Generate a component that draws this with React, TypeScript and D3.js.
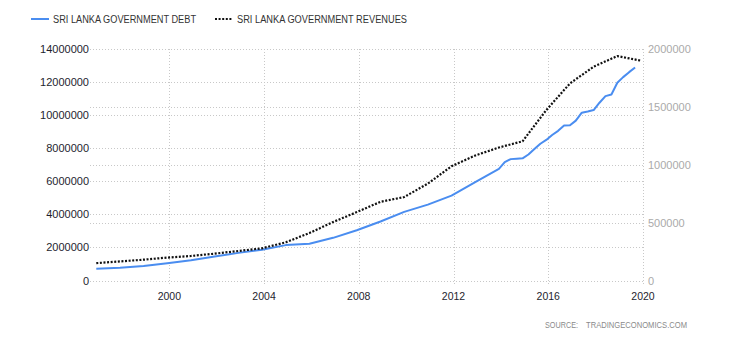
import React from "react";
import * as d3 from "d3";

const debtDates = [
  "1996-12", "1997-12", "1998-12", "1999-12", "2000-12", "2001-12", "2002-12", "2003-12",
  "2004-12", "2005-12", "2006-12", "2007-12", "2008-12", "2009-12", "2010-12", "2011-12",
  "2012-12", "2013-12",
  "2014-03", "2014-06", "2014-09", "2014-12",
  "2015-03", "2015-06", "2015-09", "2015-12",
  "2016-03", "2016-06", "2016-09", "2016-12",
  "2017-03", "2017-06", "2017-09", "2017-12",
  "2018-03", "2018-06", "2018-09", "2018-12",
  "2019-03", "2019-06", "2019-09",
];
const debtValues = [
  710000, 770000, 870000, 1050000, 1220000, 1450000, 1670000, 1860000,
  2140000, 2220000, 2580000, 3040000, 3570000, 4150000, 4590000, 5130000,
  5950000, 6750000,
  7160000, 7340000, 7370000, 7390000,
  7620000, 7950000, 8270000, 8500000,
  8800000, 9050000, 9370000, 9390000,
  9670000, 10150000, 10220000, 10310000,
  10750000, 11150000, 11250000, 11960000,
  12300000, 12600000, 12880000,
];

const revenueYears = [
  1996, 1997, 1998, 1999, 2000, 2001, 2002, 2003, 2004, 2005, 2006, 2007,
  2008, 2009, 2010, 2011, 2012, 2013, 2014, 2015, 2016, 2017, 2018, 2019,
];
const revenueValues = [
  150000, 165000, 180000, 198000, 212000, 232000, 255000, 278000, 330000, 410000, 505000, 591000,
  680000, 721000, 837000, 987000, 1080000, 1149000, 1203000, 1472000, 1703000, 1847000, 1939000, 1899000,
];

const leftTicks = [0, 2000000, 4000000, 6000000, 8000000, 10000000, 12000000, 14000000];
const rightTicks = [0, 500000, 1000000, 1500000, 2000000];
const xTickYears = [2000, 2004, 2008, 2012, 2016, 2020];

const seriesNames = ["SRI LANKA GOVERNMENT DEBT", "SRI LANKA GOVERNMENT REVENUES"];
const sourceLabel = "SOURCE:";
const sourceName = "TRADINGECONOMICS.COM";

const FONT = "'Liberation Sans', Arial, sans-serif";
const BLUE = "#4a8df0";

export default function App() {
  const W = 730;
  const H = 340;
  const left = 90;
  const right = 643;
  const top = 49;
  const bottom = 280.5;

  const x = d3
    .scaleTime()
    .domain([new Date(1996, 7, 26), new Date(2020, 0, 1)])
    .range([left, right]);
  const yL = d3.scaleLinear().domain([0, 14000000]).range([bottom, top]);
  const yR = d3.scaleLinear().domain([0, 2000000]).range([bottom, top]);

  const parse = (s: string) => {
    const [yy, mm] = s.split("-").map(Number);
    return new Date(yy, mm - 1, 1);
  };

  const debt = debtDates.map((d, i) => ({ t: parse(d), v: debtValues[i] }));
  const rev = revenueYears.map((yy, i) => ({ t: new Date(yy, 11, 1), v: revenueValues[i] }));

  const debtLine = d3
    .line<{ t: Date; v: number }>()
    .x((d) => x(d.t))
    .y((d) => yL(d.v));
  const revLine = d3
    .line<{ t: Date; v: number }>()
    .x((d) => x(d.t))
    .y((d) => yR(d.v));

  const snap = (v: number) => Math.round(v) + 0.5;
  const grid = "#c8c8c8";

  return (
    <svg width={W} height={H} style={{ display: "block", position: "absolute", left: 0, top: 0 }}>
      <rect x={0} y={0} width={W} height={H} fill="#fff" />
      {/* legend */}
      <line x1={31} x2={49} y1={19} y2={19} stroke={BLUE} strokeWidth={2} />
      <text x={53} y={23} fontFamily={FONT} fontSize={10} fill="#333" textLength={143} lengthAdjust="spacingAndGlyphs">
        {seriesNames[0]}
      </text>
      <line x1={215} x2={233} y1={19} y2={19} stroke="#111" strokeWidth={2.2} strokeDasharray="2,1.6" />
      <text x={237} y={23} fontFamily={FONT} fontSize={10} fill="#333" textLength={170} lengthAdjust="spacingAndGlyphs">
        {seriesNames[1]}
      </text>

      {/* horizontal gridlines left */}
      {leftTicks.map((t) => (
        <line key={"gl" + t} x1={left} x2={right} y1={snap(yL(t))} y2={snap(yL(t))} stroke={grid} strokeDasharray="1,2" />
      ))}
      {rightTicks.map((t) => (
        <line key={"gr" + t} x1={left} x2={right} y1={snap(yR(t))} y2={snap(yR(t))} stroke={grid} strokeDasharray="1,2" />
      ))}
      {/* vertical gridlines */}
      {xTickYears.map((yy) => {
        const px = snap(x(new Date(yy, 0, 1)));
        return <line key={"v" + yy} x1={px} x2={px} y1={top} y2={285} stroke={grid} strokeDasharray="1,2" />;
      })}

      {/* left axis labels */}
      {leftTicks.map((t) => (
        <text key={"ll" + t} x={89} y={yL(t) + 4} textAnchor="end" fontFamily={FONT} fontSize={11} fill="#1e1e2e">
          {String(t)}
        </text>
      ))}
      {/* right axis labels */}
      {rightTicks.map((t) => (
        <text key={"rl" + t} x={648} y={yR(t) + 4} textAnchor="start" fontFamily={FONT} fontSize={11} fill="#aaa">
          {String(t)}
        </text>
      ))}
      {/* x labels */}
      {xTickYears.map((yy) => (
        <text key={"xl" + yy} x={x(new Date(yy, 0, 1))} y={300} textAnchor="middle" fontFamily={FONT} fontSize={10.5} fill="#1e1e2e">
          {String(yy)}
        </text>
      ))}

      {/* series */}
      <path d={debtLine(debt) || ""} fill="none" stroke={BLUE} strokeWidth={2} strokeLinejoin="round" />
      <path d={revLine(rev) || ""} fill="none" stroke="#111" strokeWidth={2.2} strokeDasharray="2,1.6" />

      <text x={545} y={328} fontFamily={FONT} fontSize={9} fill="#8a8a8a" textLength={33} lengthAdjust="spacingAndGlyphs">
        {sourceLabel}
      </text>
      <text x={586} y={328} fontFamily={FONT} fontSize={9} fill="#8a8a8a" textLength={101} lengthAdjust="spacingAndGlyphs">
        {sourceName}
      </text>
    </svg>
  );
}
